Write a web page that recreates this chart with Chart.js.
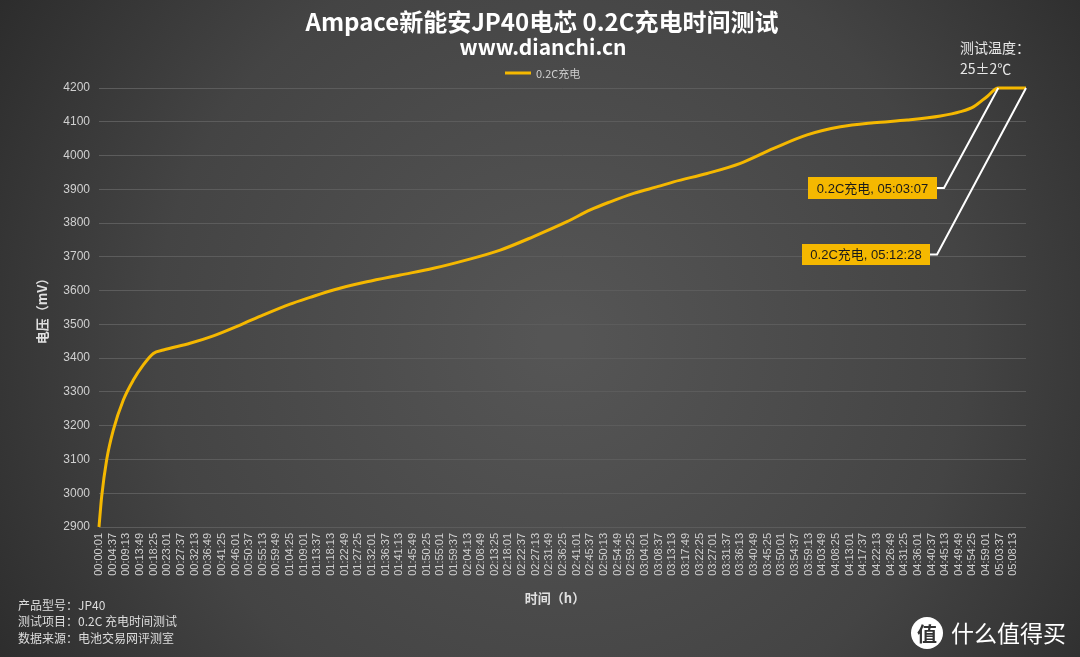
<!DOCTYPE html>
<html>
<head>
<meta charset="utf-8">
<title>Ampace新能安JP40电芯 0.2C充电时间测试</title>
<script src="https://cdn.jsdelivr.net/npm/chart.js@4.4.1/dist/chart.umd.min.js"></script>
<style>
  html, body { margin: 0; padding: 0; background: #333; }
  #wrap { position: relative; width: 1080px; height: 657px; }
</style>
</head>
<body>
<div id="wrap"><canvas id="chart" width="1080" height="657"></canvas></div>
<script>
// elapsed time in seconds and cell voltage in mV
const timeSec = [1, 55, 157, 290, 493, 695, 897, 1100, 1302, 1842, 2314, 2854, 3326, 3866, 4270,
  4742, 5418, 6092, 6766, 7441, 8115, 8789, 9465, 9936, 10341, 10813, 11353, 11622, 12298,
  12972, 13645, 14321, 14995, 15669, 16345, 17018, 17423, 17692, 17963, 18187, 18748];
const voltage = [2900, 2990, 3100, 3187, 3276, 3335, 3380, 3414, 3424, 3444, 3466, 3498, 3528, 3560, 3580,
  3602, 3626, 3646, 3666, 3691, 3720, 3760, 3804, 3839, 3863, 3888, 3910, 3922, 3947,
  3977, 4021, 4061, 4085, 4097, 4105, 4117, 4130, 4145, 4175, 4200, 4200];

const xTickLabels = ['00:00:01', '00:04:37', '00:09:13', '00:13:49', '00:18:25', '00:23:01', '00:27:37',
  '00:32:13', '00:36:49', '00:41:25', '00:46:01', '00:50:37', '00:55:13', '00:59:49', '01:04:25',
  '01:09:01', '01:13:37', '01:18:13', '01:22:49', '01:27:25', '01:32:01', '01:36:37', '01:41:13',
  '01:45:49', '01:50:25', '01:55:01', '01:59:37', '02:04:13', '02:08:49', '02:13:25', '02:18:01',
  '02:22:37', '02:27:13', '02:31:49', '02:36:25', '02:41:01', '02:45:37', '02:50:13', '02:54:49',
  '02:59:25', '03:04:01', '03:08:37', '03:13:13', '03:17:49', '03:22:25', '03:27:01', '03:31:37',
  '03:36:13', '03:40:49', '03:45:25', '03:50:01', '03:54:37', '03:59:13', '04:03:49', '04:08:25',
  '04:13:01', '04:17:37', '04:22:13', '04:26:49', '04:31:25', '04:36:01', '04:40:37', '04:45:13',
  '04:49:49', '04:54:25', '04:59:01', '05:03:37', '05:08:13'];

const markerTimes = ['05:03:07', '05:12:28'];
const markerVolts = [4200, 4200];
const seriesName = '0.2C充电';

const footerLines = ['产品型号：JP40', '测试项目：0.2C 充电时间测试', '数据来源：电池交易网评测室'];

const GOLD = '#f5b800';
const FONT = '"Noto Sans CJK SC", "Noto Sans", sans-serif';
const NUMFONT = '"Liberation Sans", "Noto Sans CJK SC", sans-serif';

function toSec(s) {
  const p = s.split(':').map(Number);
  return p[0] * 3600 + p[1] * 60 + p[2];
}

const decorations = {
  id: 'decorations',
  beforeDraw(chart) {
    const ctx = chart.ctx;
    const g = ctx.createRadialGradient(560, 340, 20, 560, 340, 720);
    g.addColorStop(0, '#555555');
    g.addColorStop(0.55, '#444444');
    g.addColorStop(1, '#262626');
    ctx.save();
    ctx.fillStyle = g;
    ctx.fillRect(0, 0, chart.width, chart.height);
    ctx.restore();
  },
  afterDraw(chart) {
    const ctx = chart.ctx;
    const x = chart.scales.x, y = chart.scales.y;
    ctx.save();
    ctx.textBaseline = 'middle';

    // titles
    ctx.fillStyle = '#ffffff';
    ctx.textAlign = 'center';
    ctx.font = 'bold 24px ' + FONT;
    ctx.fillText('Ampace新能安JP40电芯 0.2C充电时间测试', 542, 22);
    ctx.font = 'bold 21px ' + FONT;
    ctx.fillText('www.dianchi.cn', 543, 47);

    // legend
    ctx.strokeStyle = GOLD;
    ctx.lineWidth = 3;
    ctx.beginPath();
    ctx.moveTo(505, 73);
    ctx.lineTo(531, 73);
    ctx.stroke();
    ctx.fillStyle = '#d0d0d0';
    ctx.textAlign = 'left';
    ctx.font = '11px ' + FONT;
    ctx.fillText(seriesName, 536, 74);

    // test temperature
    ctx.fillStyle = '#e8e8e8';
    ctx.font = '14px ' + FONT;
    ctx.fillText('测试温度：', 960, 48);
    ctx.fillText('25±2℃', 960, 69);

    // axis titles
    ctx.fillStyle = '#e0e0e0';
    ctx.font = 'bold 13px ' + FONT;
    ctx.textAlign = 'center';
    ctx.fillText('时间（h）', 555, 598);
    ctx.save();
    ctx.translate(42, 308);
    ctx.rotate(-Math.PI / 2);
    ctx.fillText('电压（mV）', 0, 0);
    ctx.restore();

    // footer notes
    ctx.textAlign = 'left';
    ctx.font = '12px ' + FONT;
    ctx.fillStyle = '#dddddd';
    footerLines.forEach((s, i) => ctx.fillText(s, 18, 605 + i * 16.5));

    // data labels with leader lines
    const boxes = [
      { bx: 808, by: 177, w: 129, h: 22, elbow: 944 },
      { bx: 802, by: 244, w: 128, h: 21, elbow: 937 }
    ];
    markerTimes.forEach((t, i) => {
      const px = x.getPixelForValue(toSec(t));
      const py = y.getPixelForValue(markerVolts[i]);
      const b = boxes[i];
      const cy = b.by + b.h / 2;
      ctx.strokeStyle = '#ffffff';
      ctx.lineWidth = 2;
      ctx.beginPath();
      ctx.moveTo(b.bx + b.w, cy);
      ctx.lineTo(b.elbow, cy);
      ctx.lineTo(px, py);
      ctx.stroke();
      ctx.fillStyle = GOLD;
      ctx.fillRect(b.bx, b.by, b.w, b.h);
      ctx.fillStyle = '#1a1a1a';
      ctx.font = '13px ' + NUMFONT;
      ctx.textAlign = 'center';
      ctx.fillText(seriesName + ', ' + t, b.bx + b.w / 2, cy + 1);
    });

    // watermark
    ctx.fillStyle = '#ffffff';
    ctx.beginPath();
    ctx.arc(927, 633, 16, 0, Math.PI * 2);
    ctx.fill();
    ctx.fillStyle = '#333333';
    ctx.font = 'bold 20px ' + FONT;
    ctx.textAlign = 'center';
    ctx.fillText('值', 927, 634);
    ctx.fillStyle = '#ffffff';
    ctx.font = '23px ' + FONT;
    ctx.textAlign = 'left';
    ctx.fillText('什么值得买', 951, 633);
    ctx.restore();
  }
};

new Chart(document.getElementById('chart'), {
  type: 'line',
  data: {
    datasets: [{
      label: seriesName,
      data: timeSec.map((t, i) => ({ x: t, y: voltage[i] })),
      borderColor: GOLD,
      backgroundColor: GOLD,
      borderWidth: 3,
      pointRadius: 0,
      cubicInterpolationMode: 'monotone',
      clip: 4
    }]
  },
  options: {
    responsive: false,
    animation: false,
    layout: { padding: { left: 0, right: 54, top: 88, bottom: 0 } },
    plugins: {
      legend: { display: false },
      title: { display: false },
      tooltip: { enabled: false }
    },
    scales: {
      x: {
        type: 'linear',
        min: toSec(xTickLabels[0]),
        max: toSec(markerTimes[1]),
        afterBuildTicks(scale) {
          scale.ticks = xTickLabels.map(l => ({ value: toSec(l) }));
        },
        afterFit(scale) { scale.height = 130; },
        grid: { display: false, drawTicks: false },
        border: { display: false },
        ticks: {
          autoSkip: false,
          maxRotation: 90,
          minRotation: 90,
          padding: 6,
          color: '#d0d0d0',
          font: { family: NUMFONT, size: 11 },
          callback: (v, i) => xTickLabels[i]
        }
      },
      y: {
        min: 2900,
        max: 4200,
        afterFit(scale) { scale.width = 99; },
        grid: { color: '#5c5c5c', lineWidth: 1, drawTicks: false },
        border: { display: false },
        ticks: {
          stepSize: 100,
          padding: 9,
          color: '#d0d0d0',
          font: { family: NUMFONT, size: 12 },
          callback: v => String(v)
        }
      }
    }
  },
  plugins: [decorations]
});
</script>
</body>
</html>
